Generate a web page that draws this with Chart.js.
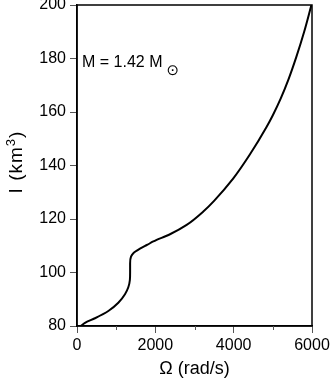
<!DOCTYPE html>
<html>
<head>
<meta charset="utf-8">
<script src="https://cdn.jsdelivr.net/npm/chart.js@4/dist/chart.umd.min.js"></script>
<style>
  html, body { margin: 0; padding: 0; background: #fff; }
  #wrap { width: 330px; height: 382px; }
</style>
</head>
<body>
<div id="wrap"><canvas id="chart" width="330" height="382"></canvas></div>
<script>
// moment of inertia vs. angular velocity
const omega   = [100, 204, 460, 800, 1055, 1225, 1310, 1350, 1356, 1356, 1379, 1438, 1608, 1800, 1949, 2374, 2800, 3225, 3500, 3991, 4417, 4843, 5000, 5200, 5400, 5600, 5800, 5985];
const inertia = [80, 81.2, 82.9, 85.6, 88.7, 91.9, 94.5, 97.2, 100, 103.4, 105.9, 107.2, 108.9, 110.4, 111.6, 114.3, 117.8, 122.8, 126.8, 135.2, 144.2, 154.5, 158.8, 165, 172.2, 180.6, 190, 200];

const xTicks = [0, 2000, 4000, 6000];
const xMinorTicks = [1000, 3000, 5000];
const yTicks = [80, 100, 120, 140, 160, 180, 200];
const massLabel = 'M = 1.42 M';
const sunSymbol = '\u2299';
const yTitle = ['I (km', '3', ')'];

const font = 'Liberation Sans, Arial, sans-serif';

// frame, minor ticks, y title and the mass label
const extras = {
  id: 'extras',
  afterDraw(chart) {
    const { ctx, chartArea: a, scales } = chart;
    ctx.save();
    ctx.strokeStyle = '#000';
    ctx.lineWidth = 1.5;
    ctx.strokeRect(a.left, a.top, a.right - a.left, a.bottom - a.top);

    ctx.lineWidth = 1;
    ctx.strokeStyle = '#555';
    xMinorTicks.forEach(v => {
      const px = Math.round(scales.x.getPixelForValue(v)) + 0.5;
      ctx.beginPath();
      ctx.moveTo(px, a.bottom);
      ctx.lineTo(px, a.bottom + 4);
      ctx.stroke();
    });

    ctx.fillStyle = '#000';
    ctx.textBaseline = 'alphabetic';

    // y axis title with a raised exponent
    ctx.save();
    ctx.letterSpacing = '1px';
    ctx.font = '19px ' + font;
    const w0 = ctx.measureText(yTitle[0]).width;
    ctx.font = '13px ' + font;
    const w1 = ctx.measureText(yTitle[1]).width;
    ctx.font = '19px ' + font;
    const w2 = ctx.measureText(yTitle[2]).width;
    const total = w0 + w1 + w2;
    ctx.translate(22, 162);
    ctx.rotate(-Math.PI / 2);
    ctx.fillText(yTitle[0], -total / 2, 0);
    ctx.font = '13px ' + font;
    ctx.fillText(yTitle[1], -total / 2 + w0, -7);
    ctx.font = '19px ' + font;
    ctx.fillText(yTitle[2], -total / 2 + w0 + w1, 0);
    ctx.restore();

    ctx.font = '16px ' + font;
    const x0 = a.left + 5;
    const y0 = 67;
    ctx.fillText(massLabel, x0, y0);
    const w = ctx.measureText(massLabel).width;
    ctx.font = '15px DejaVu Sans, sans-serif';
    ctx.fillText(sunSymbol, x0 + w + 4, y0 + 8);
    ctx.restore();
  }
};

new Chart(document.getElementById('chart').getContext('2d'), {
  type: 'scatter',
  data: {
    datasets: [{
      data: omega.map((x, i) => ({ x, y: inertia[i] })),
      showLine: true,
      indexAxis: 'y',               // I grows steadily, so interpolate along it
      cubicInterpolationMode: 'monotone',
      borderColor: '#000',
      borderWidth: 2,
      pointRadius: 0,
      fill: false
    }]
  },
  options: {
    responsive: false,
    animation: false,
    layout: { padding: { top: 5, right: 18, left: 0, bottom: 0 } },
    plugins: { legend: { display: false }, tooltip: { enabled: false } },
    scales: {
      x: {
        type: 'linear',
        min: 0, max: 6000,
        afterBuildTicks: s => { s.ticks = xTicks.map(v => ({ value: v })); },
        afterFit: s => { s.height = 56; s.paddingLeft = 0; s.paddingRight = 0; },
        grid: { drawOnChartArea: false, drawTicks: true, tickLength: 7, tickColor: '#555', tickWidth: 1 },
        border: { display: true, color: '#000', width: 1.5 },
        ticks: { color: '#000', font: { family: font, size: 16 }, padding: 3, maxRotation: 0, callback: v => String(v) },
        title: { display: true, text: 'Ω (rad/s)', color: '#000', font: { family: font, size: 18 }, padding: { top: 0, bottom: 2 } }
      },
      y: {
        type: 'linear',
        min: 80, max: 200,
        afterBuildTicks: s => { s.ticks = yTicks.map(v => ({ value: v })); },
        afterFit: s => { s.width = 77; s.paddingTop = 0; s.paddingBottom = 0; },
        grid: { drawOnChartArea: false, drawTicks: true, tickLength: 7, tickColor: '#555', tickWidth: 1 },
        border: { display: true, color: '#000', width: 1.5 },
        ticks: { color: '#000', font: { family: font, size: 16 }, padding: 4, callback: v => String(v) },
        title: { display: false }
      }
    }
  },
  plugins: [extras]
});
</script>
</body>
</html>
